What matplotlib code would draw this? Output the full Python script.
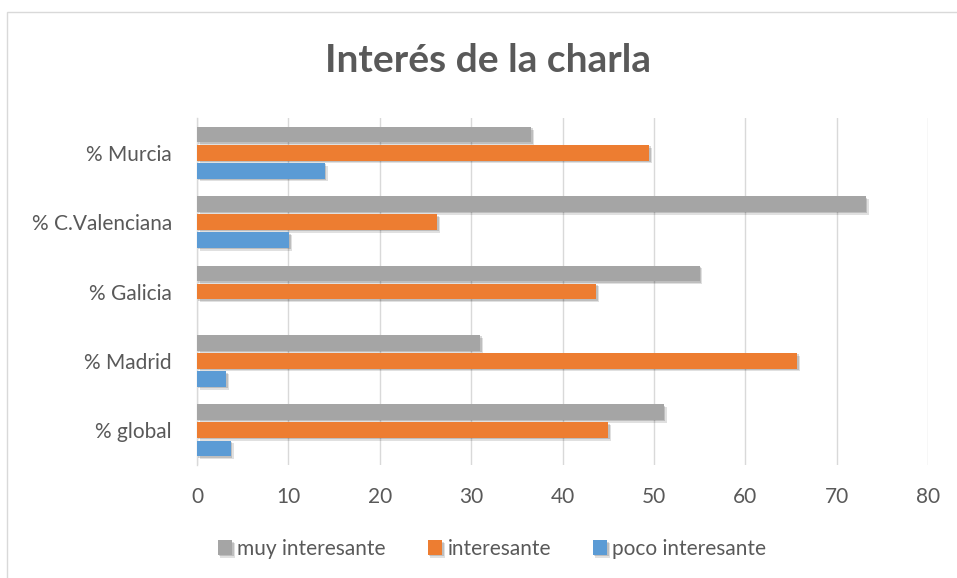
import matplotlib
matplotlib.use("Agg")
import matplotlib.pyplot as plt
import matplotlib.patheffects as pe
from matplotlib.patches import Rectangle
import numpy as np

categories = ["% global", "% Madrid", "% Galicia", "% C.Valenciana", "% Murcia"]
muy_interesante = [51.1, 31.0, 55.0, 73.2, 36.6]
interesante = [45.0, 65.7, 43.7, 26.3, 49.5]
poco_interesante = [3.7, 3.2, 0.0, 10.1, 14.0]
series_names = ["muy interesante", "interesante", "poco interesante"]
x_ticks = [0, 10, 20, 30, 40, 50, 60, 70, 80]

colors = ["#A5A5A5", "#ED7D31", "#5B9BD5"]
text_color = "#595959"
font = ["Lato", "DejaVu Sans"]

fig = plt.figure(figsize=(9.57, 5.78), dpi=100)
fig.patches.append(Rectangle((7 / 957, -0.1), 1.0, 1 - 12 / 578 + 0.1,
                             transform=fig.transFigure, fill=False,
                             edgecolor="#D9D9D9", linewidth=1.0))

ax = fig.add_axes([197 / 957, 1 - 465 / 578, 731 / 957, 347 / 578])

y = np.arange(len(categories))
pitch = 0.26
height = 0.225
shadow = [pe.SimplePatchShadow(offset=(2.0, -2.0), shadow_rgbFace="#000000", alpha=0.12),
          pe.SimplePatchShadow(offset=(1.0, -1.0), shadow_rgbFace="#000000", alpha=0.15),
          pe.Normal()]
for i, (vals, off) in enumerate(zip([muy_interesante, interesante, poco_interesante], [pitch, 0, -pitch])):
    bars = ax.barh(y + off, vals, height=height, color=colors[i], label=series_names[i], zorder=3)
    for b in bars:
        if b.get_width() > 0:
            b.set_path_effects(shadow)

ax.set_xlim(0, 80)
ax.set_ylim(-0.5, len(categories) - 0.5)
ax.set_xticks(x_ticks)
ax.set_xticklabels([str(t) for t in x_ticks], family=font, fontsize=15, color=text_color)
ax.set_yticks(y)
ax.set_yticklabels(categories, family=font, fontsize=15, color=text_color)
ax.tick_params(axis="x", length=0, pad=16)
ax.tick_params(axis="y", length=0, pad=18)
ax.grid(axis="x", color="#D9D9D9", linewidth=1.0, zorder=0)
for s in ["top", "right", "bottom"]:
    ax.spines[s].set_visible(False)
ax.spines["left"].set_color("#D9D9D9")
ax.spines["left"].set_linewidth(1.0)

fig.text(488 / 957, 1 - 60 / 578, "Interés de la charla", ha="center", va="center",
         family=font, fontsize=28, fontweight="bold", color=text_color)

handles, labels = ax.get_legend_handles_labels()
leg = fig.legend(handles, labels, loc="center", bbox_to_anchor=(492 / 957, 1 - 549 / 578),
                 ncol=3, frameon=False, handlelength=0.7, handleheight=0.7,
                 handletextpad=0.25, columnspacing=2.0,
                 prop={"family": font, "size": 15})
for t in leg.get_texts():
    t.set_color(text_color)

fig.savefig("out.png", dpi=100)
